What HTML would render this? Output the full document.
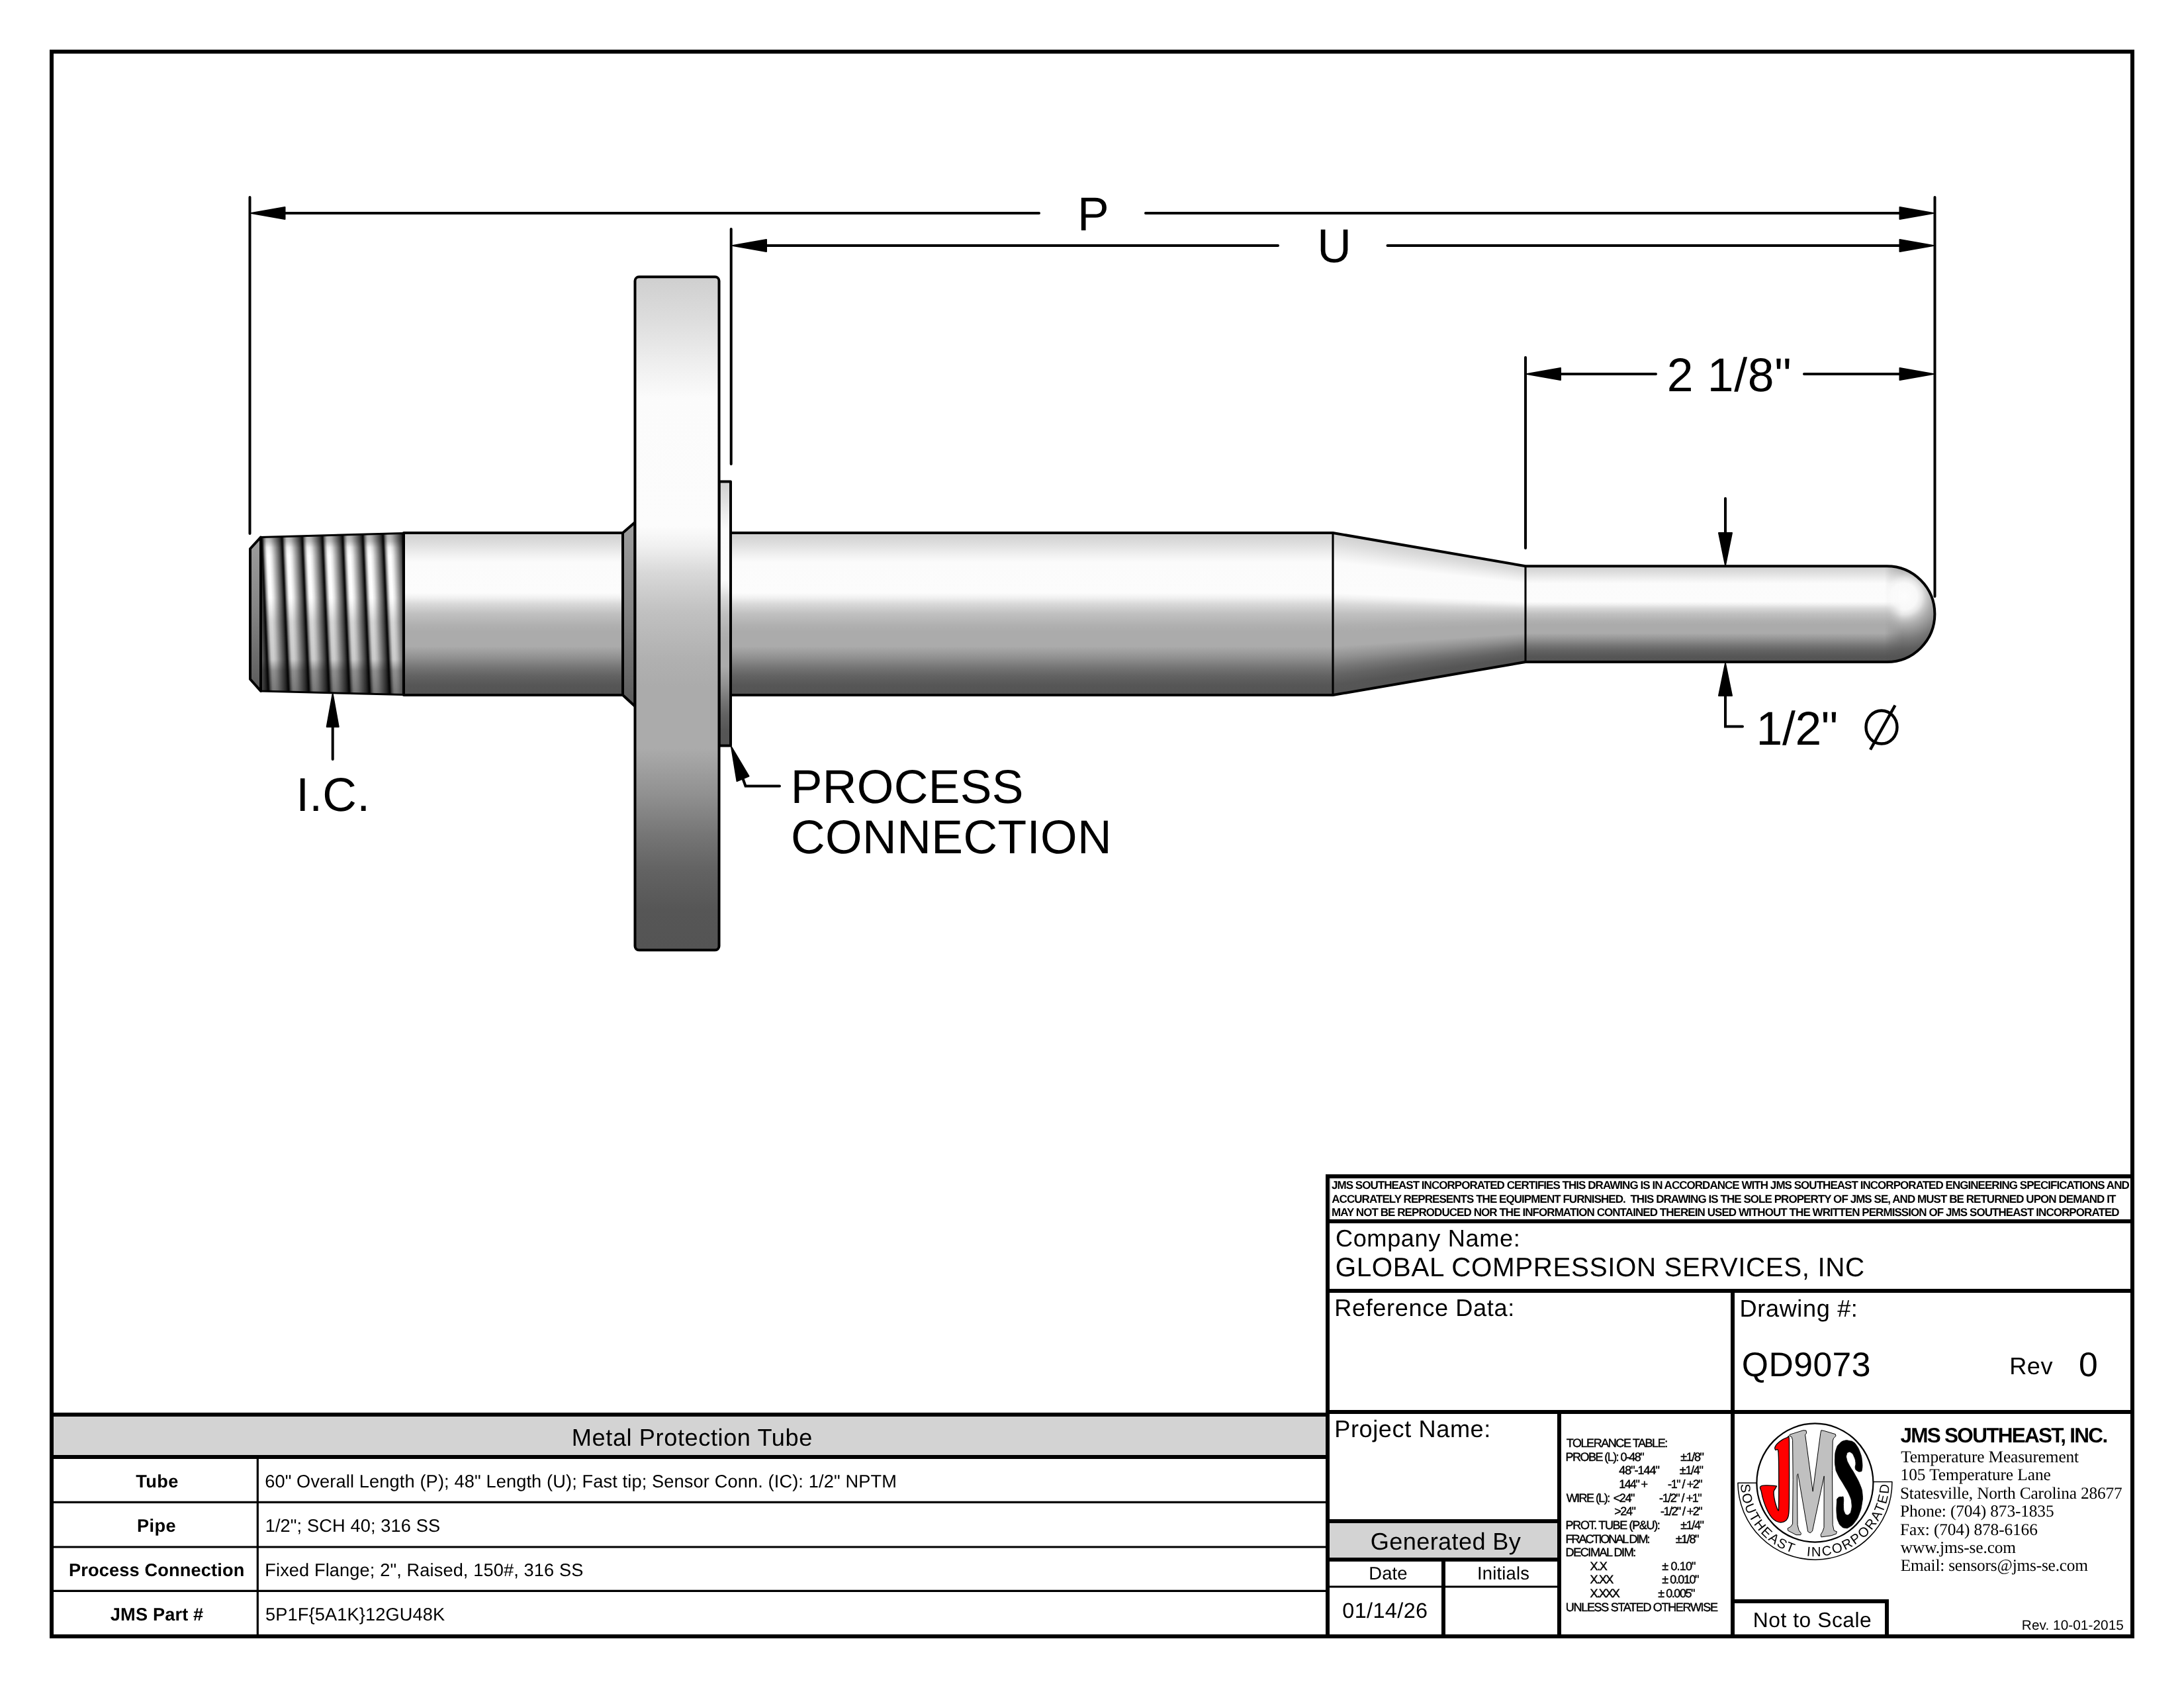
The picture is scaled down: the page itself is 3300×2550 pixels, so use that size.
<!DOCTYPE html>
<html lang="en"><head><meta charset="utf-8"><title>QD9073 - Metal Protection Tube</title>
<style>html,body{margin:0;padding:0;background:#fff;}body{width:3300px;height:2550px;overflow:hidden;}svg{display:block;font-family:"Liberation Sans",sans-serif;fill:#000;opacity:0.999;text-rendering:geometricPrecision;}</style></head><body>
<svg width="3300" height="2550" viewBox="0 0 3300 2550">
<defs>
<linearGradient id="cyl" x1="0" y1="0" x2="0" y2="1"><stop offset="0%" stop-color="#cfcfcf"/><stop offset="6%" stop-color="#dcdcdc"/><stop offset="13%" stop-color="#efefef"/><stop offset="18%" stop-color="#fbfbfb"/><stop offset="37%" stop-color="#fcfcfc"/><stop offset="40%" stop-color="#f0f0f0"/><stop offset="44%" stop-color="#d8d8d8"/><stop offset="50%" stop-color="#c0c0c0"/><stop offset="57%" stop-color="#b0b0b0"/><stop offset="61%" stop-color="#ababab"/><stop offset="70%" stop-color="#ababab"/><stop offset="77%" stop-color="#909090"/><stop offset="83%" stop-color="#757575"/><stop offset="88%" stop-color="#636363"/><stop offset="94%" stop-color="#565656"/><stop offset="100%" stop-color="#545454"/></linearGradient>
<linearGradient id="hub" x1="0" y1="0" x2="0" y2="1"><stop offset="0" stop-color="#9e9e9e"/><stop offset="0.45" stop-color="#868686"/><stop offset="0.75" stop-color="#6e6e6e"/><stop offset="1" stop-color="#5a5a5a"/></linearGradient>
<linearGradient id="ridge" x1="0" y1="0" x2="1" y2="0"><stop offset="0" stop-color="#000"/><stop offset="0.04" stop-color="#2a2a2a"/><stop offset="0.10" stop-color="#8c8c8c"/><stop offset="0.22" stop-color="#fafafa"/><stop offset="0.34" stop-color="#fff"/><stop offset="0.46" stop-color="#e6e6e6"/><stop offset="0.66" stop-color="#9c9c9c"/><stop offset="0.86" stop-color="#505050"/><stop offset="0.96" stop-color="#1c1c1c"/><stop offset="1" stop-color="#000"/></linearGradient>
<pattern id="thr" x="395.1" y="0" width="30.55" height="400" patternUnits="userSpaceOnUse" patternTransform="translate(-34.5 0) skewX(2.46)"><rect x="0" y="0" width="30.55" height="400" fill="url(#ridge)"/></pattern>
<linearGradient id="thrshade" x1="0" y1="0" x2="0" y2="1"><stop offset="0" stop-color="#000" stop-opacity="0.30"/><stop offset="0.05" stop-color="#000" stop-opacity="0.24"/><stop offset="0.09" stop-color="#000" stop-opacity="0.05"/><stop offset="0.14" stop-color="#000" stop-opacity="0.0"/><stop offset="0.40" stop-color="#000" stop-opacity="0.0"/><stop offset="0.55" stop-color="#000" stop-opacity="0.16"/><stop offset="0.78" stop-color="#000" stop-opacity="0.20"/><stop offset="0.85" stop-color="#000" stop-opacity="0.44"/><stop offset="1" stop-color="#000" stop-opacity="0.54"/></linearGradient>
<radialGradient id="ball" gradientUnits="userSpaceOnUse" cx="2877" cy="901" r="91"><stop offset="0" stop-color="#fdfdfd"/><stop offset="0.22" stop-color="#f8f8f8"/><stop offset="0.30" stop-color="#e6e6e6"/><stop offset="0.38" stop-color="#c6c6c6"/><stop offset="0.46" stop-color="#aeaeae"/><stop offset="0.55" stop-color="#9a9a9a"/><stop offset="0.70" stop-color="#7a7a7a"/><stop offset="0.87" stop-color="#5e5e5e"/><stop offset="1" stop-color="#545454"/></radialGradient>
<linearGradient id="ballfade" gradientUnits="userSpaceOnUse" x1="2848" y1="0" x2="2874" y2="0"><stop offset="0" stop-color="#fff" stop-opacity="0"/><stop offset="1" stop-color="#fff" stop-opacity="1"/></linearGradient>
<mask id="ballmask" maskUnits="userSpaceOnUse" x="2800" y="800" width="200" height="260"><rect x="2800" y="800" width="200" height="260" fill="url(#ballfade)"/></mask>
<clipPath id="tipclip"><path d="M2305,855.2 H2851 A72.4,72.4 0 0 1 2851,1000 H2305 Z"/></clipPath>
</defs>
<g stroke="#000" stroke-width="4.0" stroke-linejoin="round">
<polygon points="394,811.5 610,805 610,1050 394,1044" fill="url(#thr)" stroke="none"/>
<polygon points="394,811.5 610,805 610,1050 394,1044" fill="url(#thrshade)" stroke="none"/>
<polygon points="394,811.5 610,805.5 610,1049.5 394,1044" fill="none" stroke-width="3"/>
<polygon points="378,829 394,811.5 394,1044 378,1026" fill="url(#hub)"/>
<rect x="610" y="805" width="331" height="245" fill="url(#cyl)"/>
<polygon points="941,805 959.5,789 959.5,1067 941,1050" fill="url(#hub)"/>
<rect x="1104" y="805" width="910" height="245" fill="url(#cyl)" stroke="none"/>
<g stroke="none" shape-rendering="crispEdges">
<rect x="2014" y="805.26" width="3" height="244.48" fill="url(#cyl)"/>
<rect x="2017" y="805.78" width="3" height="243.45" fill="url(#cyl)"/>
<rect x="2020" y="806.29" width="3" height="242.42" fill="url(#cyl)"/>
<rect x="2023" y="806.81" width="3" height="241.38" fill="url(#cyl)"/>
<rect x="2026" y="807.33" width="3" height="240.35" fill="url(#cyl)"/>
<rect x="2029" y="807.85" width="3" height="239.32" fill="url(#cyl)"/>
<rect x="2032" y="808.36" width="3" height="238.29" fill="url(#cyl)"/>
<rect x="2035" y="808.88" width="3" height="237.25" fill="url(#cyl)"/>
<rect x="2038" y="809.40" width="3" height="236.22" fill="url(#cyl)"/>
<rect x="2041" y="809.92" width="3" height="235.19" fill="url(#cyl)"/>
<rect x="2044" y="810.43" width="3" height="234.15" fill="url(#cyl)"/>
<rect x="2047" y="810.95" width="3" height="233.12" fill="url(#cyl)"/>
<rect x="2050" y="811.47" width="3" height="232.09" fill="url(#cyl)"/>
<rect x="2053" y="811.99" width="3" height="231.05" fill="url(#cyl)"/>
<rect x="2056" y="812.50" width="3" height="230.02" fill="url(#cyl)"/>
<rect x="2059" y="813.02" width="3" height="228.99" fill="url(#cyl)"/>
<rect x="2062" y="813.54" width="3" height="227.96" fill="url(#cyl)"/>
<rect x="2065" y="814.06" width="3" height="226.92" fill="url(#cyl)"/>
<rect x="2068" y="814.57" width="3" height="225.89" fill="url(#cyl)"/>
<rect x="2071" y="815.09" width="3" height="224.86" fill="url(#cyl)"/>
<rect x="2074" y="815.61" width="3" height="223.82" fill="url(#cyl)"/>
<rect x="2077" y="816.13" width="3" height="222.79" fill="url(#cyl)"/>
<rect x="2080" y="816.64" width="3" height="221.76" fill="url(#cyl)"/>
<rect x="2083" y="817.16" width="3" height="220.72" fill="url(#cyl)"/>
<rect x="2086" y="817.68" width="3" height="219.69" fill="url(#cyl)"/>
<rect x="2089" y="818.20" width="3" height="218.66" fill="url(#cyl)"/>
<rect x="2092" y="818.71" width="3" height="217.63" fill="url(#cyl)"/>
<rect x="2095" y="819.23" width="3" height="216.59" fill="url(#cyl)"/>
<rect x="2098" y="819.75" width="3" height="215.56" fill="url(#cyl)"/>
<rect x="2101" y="820.27" width="3" height="214.53" fill="url(#cyl)"/>
<rect x="2104" y="820.78" width="3" height="213.49" fill="url(#cyl)"/>
<rect x="2107" y="821.30" width="3" height="212.46" fill="url(#cyl)"/>
<rect x="2110" y="821.82" width="3" height="211.43" fill="url(#cyl)"/>
<rect x="2113" y="822.34" width="3" height="210.39" fill="url(#cyl)"/>
<rect x="2116" y="822.85" width="3" height="209.36" fill="url(#cyl)"/>
<rect x="2119" y="823.37" width="3" height="208.33" fill="url(#cyl)"/>
<rect x="2122" y="823.89" width="3" height="207.30" fill="url(#cyl)"/>
<rect x="2125" y="824.41" width="3" height="206.26" fill="url(#cyl)"/>
<rect x="2128" y="824.92" width="3" height="205.23" fill="url(#cyl)"/>
<rect x="2131" y="825.44" width="3" height="204.20" fill="url(#cyl)"/>
<rect x="2134" y="825.96" width="3" height="203.16" fill="url(#cyl)"/>
<rect x="2137" y="826.48" width="3" height="202.13" fill="url(#cyl)"/>
<rect x="2140" y="826.99" width="3" height="201.10" fill="url(#cyl)"/>
<rect x="2143" y="827.51" width="3" height="200.06" fill="url(#cyl)"/>
<rect x="2146" y="828.03" width="3" height="199.03" fill="url(#cyl)"/>
<rect x="2149" y="828.55" width="3" height="198.00" fill="url(#cyl)"/>
<rect x="2152" y="829.06" width="3" height="196.97" fill="url(#cyl)"/>
<rect x="2155" y="829.58" width="3" height="195.93" fill="url(#cyl)"/>
<rect x="2158" y="830.10" width="3" height="194.90" fill="url(#cyl)"/>
<rect x="2161" y="830.62" width="3" height="193.87" fill="url(#cyl)"/>
<rect x="2164" y="831.14" width="3" height="192.83" fill="url(#cyl)"/>
<rect x="2167" y="831.65" width="3" height="191.80" fill="url(#cyl)"/>
<rect x="2170" y="832.17" width="3" height="190.77" fill="url(#cyl)"/>
<rect x="2173" y="832.69" width="3" height="189.74" fill="url(#cyl)"/>
<rect x="2176" y="833.21" width="3" height="188.70" fill="url(#cyl)"/>
<rect x="2179" y="833.72" width="3" height="187.67" fill="url(#cyl)"/>
<rect x="2182" y="834.24" width="3" height="186.64" fill="url(#cyl)"/>
<rect x="2185" y="834.76" width="3" height="185.60" fill="url(#cyl)"/>
<rect x="2188" y="835.28" width="3" height="184.57" fill="url(#cyl)"/>
<rect x="2191" y="835.79" width="3" height="183.54" fill="url(#cyl)"/>
<rect x="2194" y="836.31" width="3" height="182.50" fill="url(#cyl)"/>
<rect x="2197" y="836.83" width="3" height="181.47" fill="url(#cyl)"/>
<rect x="2200" y="837.35" width="3" height="180.44" fill="url(#cyl)"/>
<rect x="2203" y="837.86" width="3" height="179.41" fill="url(#cyl)"/>
<rect x="2206" y="838.38" width="3" height="178.37" fill="url(#cyl)"/>
<rect x="2209" y="838.90" width="3" height="177.34" fill="url(#cyl)"/>
<rect x="2212" y="839.42" width="3" height="176.31" fill="url(#cyl)"/>
<rect x="2215" y="839.93" width="3" height="175.27" fill="url(#cyl)"/>
<rect x="2218" y="840.45" width="3" height="174.24" fill="url(#cyl)"/>
<rect x="2221" y="840.97" width="3" height="173.21" fill="url(#cyl)"/>
<rect x="2224" y="841.49" width="3" height="172.17" fill="url(#cyl)"/>
<rect x="2227" y="842.00" width="3" height="171.14" fill="url(#cyl)"/>
<rect x="2230" y="842.52" width="3" height="170.11" fill="url(#cyl)"/>
<rect x="2233" y="843.04" width="3" height="169.08" fill="url(#cyl)"/>
<rect x="2236" y="843.56" width="3" height="168.04" fill="url(#cyl)"/>
<rect x="2239" y="844.07" width="3" height="167.01" fill="url(#cyl)"/>
<rect x="2242" y="844.59" width="3" height="165.98" fill="url(#cyl)"/>
<rect x="2245" y="845.11" width="3" height="164.94" fill="url(#cyl)"/>
<rect x="2248" y="845.63" width="3" height="163.91" fill="url(#cyl)"/>
<rect x="2251" y="846.14" width="3" height="162.88" fill="url(#cyl)"/>
<rect x="2254" y="846.66" width="3" height="161.84" fill="url(#cyl)"/>
<rect x="2257" y="847.18" width="3" height="160.81" fill="url(#cyl)"/>
<rect x="2260" y="847.70" width="3" height="159.78" fill="url(#cyl)"/>
<rect x="2263" y="848.21" width="3" height="158.75" fill="url(#cyl)"/>
<rect x="2266" y="848.73" width="3" height="157.71" fill="url(#cyl)"/>
<rect x="2269" y="849.25" width="3" height="156.68" fill="url(#cyl)"/>
<rect x="2272" y="849.77" width="3" height="155.65" fill="url(#cyl)"/>
<rect x="2275" y="850.28" width="3" height="154.61" fill="url(#cyl)"/>
<rect x="2278" y="850.80" width="3" height="153.58" fill="url(#cyl)"/>
<rect x="2281" y="851.32" width="3" height="152.55" fill="url(#cyl)"/>
<rect x="2284" y="851.84" width="3" height="151.51" fill="url(#cyl)"/>
<rect x="2287" y="852.35" width="3" height="150.48" fill="url(#cyl)"/>
<rect x="2290" y="852.87" width="3" height="149.45" fill="url(#cyl)"/>
<rect x="2293" y="853.39" width="3" height="148.42" fill="url(#cyl)"/>
<rect x="2296" y="853.91" width="3" height="147.38" fill="url(#cyl)"/>
<rect x="2299" y="854.42" width="3" height="146.35" fill="url(#cyl)"/>
<rect x="2302" y="854.94" width="3" height="145.32" fill="url(#cyl)"/>
</g>
<path d="M2305,855.2 H2851 A72.4,72.4 0 0 1 2851,1000 H2305 Z" fill="url(#cyl)" stroke="none"/>
<g clip-path="url(#tipclip)" stroke="none"><rect x="2840" y="850" width="90" height="156" fill="url(#ball)" mask="url(#ballmask)"/></g>
<path d="M1104,805 H2014 L2305,855.2 H2851 A72.4,72.4 0 0 1 2851,1000 H2305 L2014,1050 H1104" fill="none" stroke-width="4"/>
<path d="M2014,805 V1050 M2305,855.2 V1000" fill="none" stroke-width="3.1"/>
<rect x="1086.5" y="727.5" width="17.5" height="399" fill="url(#cyl)"/>
<rect x="959.5" y="418.3" width="127" height="1017" rx="6" ry="6" fill="url(#cyl)"/>
</g>
<g stroke="#000" stroke-width="4" stroke-linecap="round" fill="none">
<line x1="377.5" y1="298" x2="377.5" y2="806"/>
<line x1="2923.5" y1="298" x2="2923.5" y2="901"/>
<line x1="1104.7" y1="346" x2="1104.7" y2="701"/>
<line x1="2305" y1="540" x2="2305" y2="828"/>
<line x1="428" y1="322" x2="1570" y2="322"/><line x1="1731" y1="322" x2="2872" y2="322"/>
<line x1="1156" y1="371" x2="1931" y2="371"/><line x1="2096.5" y1="371" x2="2872" y2="371"/>
<line x1="2356" y1="565" x2="2502" y2="565"/><line x1="2726" y1="565" x2="2872" y2="565"/>
<line x1="2607" y1="753" x2="2607" y2="805"/>
<polyline points="2607,1050 2607,1097.5 2633,1097.5"/>
<line x1="502.7" y1="1097" x2="502.7" y2="1147"/>
<polyline points="1122,1175 1126.5,1187.4 1178,1187.4"/>
</g>
<polygon points="379.5,322.0 430.5,313.0 430.5,331.0" fill="#000" stroke="#000" stroke-width="2" stroke-linejoin="round"/>
<polygon points="2921.5,322.0 2870.5,313.0 2870.5,331.0" fill="#000" stroke="#000" stroke-width="2" stroke-linejoin="round"/>
<polygon points="1107.0,371.0 1158.0,362.0 1158.0,380.0" fill="#000" stroke="#000" stroke-width="2" stroke-linejoin="round"/>
<polygon points="2921.5,371.0 2870.5,362.0 2870.5,380.0" fill="#000" stroke="#000" stroke-width="2" stroke-linejoin="round"/>
<polygon points="2307.0,565.0 2358.0,556.0 2358.0,574.0" fill="#000" stroke="#000" stroke-width="2" stroke-linejoin="round"/>
<polygon points="2921.5,565.0 2870.5,556.0 2870.5,574.0" fill="#000" stroke="#000" stroke-width="2" stroke-linejoin="round"/>
<polygon points="2607.0,854.0 2597.0,805.0 2617.0,805.0" fill="#000" stroke="#000" stroke-width="2" stroke-linejoin="round"/>
<polygon points="2607.0,1002.0 2597.0,1051.0 2617.0,1051.0" fill="#000" stroke="#000" stroke-width="2" stroke-linejoin="round"/>
<polygon points="502.7,1048.0 493.7,1098.0 511.7,1098.0" fill="#000" stroke="#000" stroke-width="2" stroke-linejoin="round"/>
<polygon points="1105,1128 1113.5,1180 1131.5,1172.5" fill="#000" stroke="#000" stroke-width="2" stroke-linejoin="round"/>
<g stroke="#000" stroke-width="4.4" fill="none" stroke-linecap="butt"><ellipse cx="2843" cy="1098.5" rx="23.5" ry="25"/><line x1="2826" y1="1132.5" x2="2863.5" y2="1065.5"/></g>
<rect x="78" y="78" width="3144" height="2394" fill="none" stroke="#000" stroke-width="6"/>
<rect x="81" y="2140" width="1922" height="58" fill="#d3d3d3"/>
<rect x="2009" y="2301" width="344" height="52" fill="#d3d3d3"/>
<line x1="2010.3" y1="1780" x2="2010.3" y2="1842" stroke="#c4c4c4" stroke-width="1" stroke-linecap="butt"/>
<line x1="2009" y1="1781" x2="3219" y2="1781" stroke="#c4c4c4" stroke-width="1" stroke-linecap="butt"/>
<line x1="2006" y1="1774" x2="2006" y2="2472" stroke="#000" stroke-width="6" stroke-linecap="butt"/>
<line x1="2003" y1="1777" x2="3222" y2="1777" stroke="#000" stroke-width="6" stroke-linecap="butt"/>
<line x1="2006" y1="1845" x2="3222" y2="1845" stroke="#000" stroke-width="6" stroke-linecap="butt"/>
<line x1="2006" y1="1950" x2="3222" y2="1950" stroke="#000" stroke-width="6" stroke-linecap="butt"/>
<line x1="2006" y1="2133" x2="3222" y2="2133" stroke="#000" stroke-width="6" stroke-linecap="butt"/>
<line x1="2618" y1="1950" x2="2618" y2="2472" stroke="#000" stroke-width="6" stroke-linecap="butt"/>
<line x1="2356" y1="2133" x2="2356" y2="2472" stroke="#000" stroke-width="6" stroke-linecap="butt"/>
<line x1="2006" y1="2298" x2="2356" y2="2298" stroke="#000" stroke-width="6" stroke-linecap="butt"/>
<line x1="2006" y1="2356" x2="2356" y2="2356" stroke="#000" stroke-width="6" stroke-linecap="butt"/>
<line x1="2006" y1="2397" x2="2356" y2="2397" stroke="#000" stroke-width="3" stroke-linecap="butt"/>
<line x1="2181" y1="2356" x2="2181" y2="2472" stroke="#000" stroke-width="6" stroke-linecap="butt"/>
<line x1="2618" y1="2419" x2="2854" y2="2419" stroke="#000" stroke-width="6" stroke-linecap="butt"/>
<line x1="2851" y1="2416" x2="2851" y2="2472" stroke="#000" stroke-width="6" stroke-linecap="butt"/>
<line x1="78" y1="2137" x2="2006" y2="2137" stroke="#000" stroke-width="6" stroke-linecap="butt"/>
<line x1="78" y1="2201" x2="2006" y2="2201" stroke="#000" stroke-width="6" stroke-linecap="butt"/>
<line x1="78" y1="2269.3" x2="2006" y2="2269.3" stroke="#000" stroke-width="3.2" stroke-linecap="butt"/>
<line x1="78" y1="2337" x2="2006" y2="2337" stroke="#000" stroke-width="3.2" stroke-linecap="butt"/>
<line x1="78" y1="2403.3" x2="2006" y2="2403.3" stroke="#000" stroke-width="3.2" stroke-linecap="butt"/>
<line x1="389.3" y1="2201" x2="389.3" y2="2472" stroke="#000" stroke-width="3.2" stroke-linecap="butt"/>
<text x="1628.11" y="348" font-size="71.5">P</text>
<text x="1990.28" y="396" font-size="71.5">U</text>
<text x="2518.71" y="590.8" font-size="71.5" textLength="188.00" lengthAdjust="spacing">2 1/8&quot;</text>
<text x="2653.53" y="1124.5" font-size="71.5" textLength="123.61" lengthAdjust="spacing">1/2&quot;</text>
<text x="447.31" y="1224.7" font-size="71.5" textLength="111.72" lengthAdjust="spacing">I.C.</text>
<text x="1194.83" y="1212.8" font-size="71.5" textLength="351.59" lengthAdjust="spacing">PROCESS</text>
<text x="1194.93" y="1289" font-size="71.5" textLength="484.79" lengthAdjust="spacing">CONNECTION</text>
<text x="2012.01" y="1795.8" font-size="17.0" font-weight="bold" textLength="1205.74" lengthAdjust="spacing">JMS SOUTHEAST INCORPORATED CERTIFIES THIS DRAWING IS IN ACCORDANCE WITH JMS SOUTHEAST INCORPORATED ENGINEERING SPECIFICATIONS AND</text>
<text x="2012.27" y="1816.8" font-size="17.0" font-weight="bold" textLength="1185.09" lengthAdjust="spacing">ACCURATELY REPRESENTS THE EQUIPMENT FURNISHED.  THIS DRAWING IS THE SOLE PROPERTY OF JMS SE, AND MUST BE RETURNED UPON DEMAND IT</text>
<text x="2011.92" y="1837.4" font-size="17.0" font-weight="bold" textLength="1190.71" lengthAdjust="spacing">MAY NOT BE REPRODUCED NOR THE INFORMATION CONTAINED THEREIN USED WITHOUT THE WRITTEN PERMISSION OF JMS SOUTHEAST INCORPORATED</text>
<text x="2017.89" y="1882.8" font-size="36.2" textLength="278.85" lengthAdjust="spacing">Company Name:</text>
<text x="2017.82" y="1928.0" font-size="40.4" textLength="799.37" lengthAdjust="spacing">GLOBAL COMPRESSION SERVICES, INC</text>
<text x="2016.22" y="1988.2" font-size="36.2" textLength="272.08" lengthAdjust="spacing">Reference Data:</text>
<text x="2628.52" y="1988.6" font-size="36.2" textLength="178.41" lengthAdjust="spacing">Drawing #:</text>
<text x="2631.82" y="2079.4" font-size="51.7" textLength="194.73" lengthAdjust="spacing">QD9073</text>
<text x="3036.22" y="2076" font-size="36.2" textLength="65.35" lengthAdjust="spacing">Rev</text>
<text x="3141.06" y="2079.4" font-size="51.7">0</text>
<text x="2016.22" y="2171.2" font-size="36.2" textLength="236.17" lengthAdjust="spacing">Project Name:</text>
<text x="2070.72" y="2341" font-size="36.2" textLength="227.22" lengthAdjust="spacing">Generated By</text>
<text x="2068.37" y="2386.2" font-size="27.4" textLength="58.15" lengthAdjust="spacing">Date</text>
<text x="2232.10" y="2386.2" font-size="27.4" textLength="78.73" lengthAdjust="spacing">Initials</text>
<text x="2028.30" y="2443.6" font-size="32.4" textLength="128.76" lengthAdjust="spacing">01/14/26</text>
<text x="2648.86" y="2457.8" font-size="31.8" textLength="178.95" lengthAdjust="spacing">Not to Scale</text>
<text x="3054.87" y="2461.6" font-size="20.8" textLength="153.97" lengthAdjust="spacing">Rev. 10-01-2015</text>
<text x="2366.69" y="2186.2" font-size="18.0" textLength="153.56" lengthAdjust="spacing" stroke="#000" stroke-width="0.45">TOLERANCE TABLE:</text>
<text x="2365.62" y="2206.8" font-size="18.0" textLength="118.99" lengthAdjust="spacing" stroke="#000" stroke-width="0.45">PROBE (L): 0-48&quot;</text>
<text x="2539.19" y="2206.8" font-size="18.0" textLength="35.71" lengthAdjust="spacing" stroke="#000" stroke-width="0.45">±1/8&quot;</text>
<text x="2446.31" y="2227.4" font-size="18.0" textLength="61.59" lengthAdjust="spacing" stroke="#000" stroke-width="0.45">48&quot;-144&quot;</text>
<text x="2537.80" y="2227.4" font-size="18.0" textLength="36.10" lengthAdjust="spacing" stroke="#000" stroke-width="0.45">±1/4&quot;</text>
<text x="2446.35" y="2248.1" font-size="18.0" textLength="43.64" lengthAdjust="spacing" stroke="#000" stroke-width="0.45">144&quot; +</text>
<text x="2520.12" y="2248.1" font-size="18.0" textLength="52.49" lengthAdjust="spacing" stroke="#000" stroke-width="0.45">-1&quot; / +2&quot;</text>
<text x="2366.67" y="2268.7" font-size="18.0" textLength="66.59" lengthAdjust="spacing" stroke="#000" stroke-width="0.45">WIRE (L):</text>
<text x="2437.72" y="2268.7" font-size="18.0" textLength="32.74" lengthAdjust="spacing" stroke="#000" stroke-width="0.45">&lt;24&quot;</text>
<text x="2507.12" y="2268.7" font-size="18.0" textLength="64.49" lengthAdjust="spacing" stroke="#000" stroke-width="0.45">-1/2&quot; / +1&quot;</text>
<text x="2439.13" y="2289.3" font-size="18.0" textLength="32.77" lengthAdjust="spacing" stroke="#000" stroke-width="0.45">&gt;24&quot;</text>
<text x="2509.12" y="2289.3" font-size="18.0" textLength="63.49" lengthAdjust="spacing" stroke="#000" stroke-width="0.45">-1/2&quot; / +2&quot;</text>
<text x="2365.62" y="2309.9" font-size="18.0" textLength="143.18" lengthAdjust="spacing" stroke="#000" stroke-width="0.45">PROT. TUBE (P&amp;U):</text>
<text x="2539.19" y="2309.9" font-size="18.0" textLength="35.71" lengthAdjust="spacing" stroke="#000" stroke-width="0.45">±1/4&quot;</text>
<text x="2365.62" y="2330.5" font-size="18.0" textLength="127.78" lengthAdjust="spacing" stroke="#000" stroke-width="0.45">FRACTIONAL DIM:</text>
<text x="2531.80" y="2330.5" font-size="18.0" textLength="35.66" lengthAdjust="spacing" stroke="#000" stroke-width="0.45">±1/8&quot;</text>
<text x="2365.62" y="2351.2" font-size="18.0" textLength="106.64" lengthAdjust="spacing" stroke="#000" stroke-width="0.45">DECIMAL DIM:</text>
<text x="2402.60" y="2371.8" font-size="18.0" textLength="26.16" lengthAdjust="spacing" stroke="#000" stroke-width="0.45">X.X</text>
<text x="2511.19" y="2371.8" font-size="18.0" textLength="51.27" lengthAdjust="spacing" stroke="#000" stroke-width="0.45">± 0.10&quot;</text>
<text x="2402.60" y="2392.4" font-size="18.0" textLength="35.60" lengthAdjust="spacing" stroke="#000" stroke-width="0.45">X.XX</text>
<text x="2511.19" y="2392.4" font-size="18.0" textLength="56.27" lengthAdjust="spacing" stroke="#000" stroke-width="0.45">± 0.010&quot;</text>
<text x="2402.60" y="2413.0" font-size="18.0" textLength="45.16" lengthAdjust="spacing" stroke="#000" stroke-width="0.45">X.XXX</text>
<text x="2505.19" y="2413.0" font-size="18.0" textLength="56.27" lengthAdjust="spacing" stroke="#000" stroke-width="0.45">± 0.005&quot;</text>
<text x="2365.87" y="2433.6" font-size="18.0" textLength="230.12" lengthAdjust="spacing" stroke="#000" stroke-width="0.45">UNLESS STATED OTHERWISE</text>
<text x="2871.46" y="2179.1" font-size="31.5" font-weight="bold" textLength="313.69" lengthAdjust="spacing">JMS SOUTHEAST, INC.</text>
<text x="2872.13" y="2208.6" font-size="25.4" font-family='"Liberation Serif", serif' textLength="268.98" lengthAdjust="spacing">Temperature Measurement</text>
<text x="2871.58" y="2236.1" font-size="25.4" font-family='"Liberation Serif", serif' textLength="227.18" lengthAdjust="spacing">105 Temperature Lane</text>
<text x="2870.88" y="2263.5" font-size="25.4" font-family='"Liberation Serif", serif' textLength="335.93" lengthAdjust="spacing">Statesville, North Carolina 28677</text>
<text x="2871.09" y="2291.0" font-size="25.4" font-family='"Liberation Serif", serif' textLength="232.50" lengthAdjust="spacing">Phone: (704) 873-1835</text>
<text x="2871.09" y="2318.5" font-size="25.4" font-family='"Liberation Serif", serif' textLength="207.76" lengthAdjust="spacing">Fax: (704) 878-6166</text>
<text x="2871.82" y="2345.9" font-size="25.4" font-family='"Liberation Serif", serif' textLength="174.26" lengthAdjust="spacing">www.jms-se.com</text>
<text x="2871.66" y="2373.4" font-size="25.4" font-family='"Liberation Serif", serif' textLength="283.42" lengthAdjust="spacing">Email: sensors@jms-se.com</text>
<text x="863.86" y="2183.6" font-size="36.2" textLength="363.55" lengthAdjust="spacing">Metal Protection Tube</text>
<text x="205.35" y="2247.1" font-size="27.2" font-weight="bold" textLength="63.96" lengthAdjust="spacing">Tube</text>
<text x="207.03" y="2313.7" font-size="27.2" font-weight="bold" textLength="58.47" lengthAdjust="spacing">Pipe</text>
<text x="104.09" y="2381.2" font-size="27.2" font-weight="bold" textLength="265.17" lengthAdjust="spacing">Process Connection</text>
<text x="166.80" y="2448.0" font-size="27.2" font-weight="bold" textLength="140.44" lengthAdjust="spacing">JMS Part #</text>
<text x="400.16" y="2247.1" font-size="27.2" textLength="954.64" lengthAdjust="spacing">60&quot; Overall Length (P); 48&quot; Length (U); Fast tip; Sensor Conn. (IC): 1/2&quot; NPTM</text>
<text x="400.69" y="2313.7" font-size="27.2" textLength="264.37" lengthAdjust="spacing">1/2&quot;; SCH 40; 316 SS</text>
<text x="400.25" y="2381.2" font-size="27.2" textLength="481.06" lengthAdjust="spacing">Fixed Flange; 2&quot;, Raised, 150#, 316 SS</text>
<text x="400.95" y="2448.0" font-size="27.2" textLength="271.16" lengthAdjust="spacing">5P1F{5A1K}12GU48K</text>
<g stroke-linejoin="round">
<path d="M2625.9,2240.3 A116.5,116.8 0 0 0 2858.9,2238.6 L2830.4,2238.6 A88.0,89.6 0 0 1 2654.4,2240.3 Z" fill="#fff" stroke="#000" stroke-width="1.5"/>
<ellipse cx="2742.4" cy="2240.0" rx="88.0" ry="89.6" fill="#fff" stroke="#000" stroke-width="2.2"/>
<path d="M2704.2,2167.2 L2724.9,2160.7 L2729.0,2161.1 L2729.7,2165.2 L2727.6,2167.2 L2739.2,2253.1 L2750.8,2165.2 L2751.9,2160.7 L2756.2,2161.5 L2773.3,2166.6 L2774.0,2169.3 L2770.5,2172.7 L2769.2,2176.8 L2768.5,2221.7 L2769.2,2303.5 L2771.2,2312.3 L2775.3,2313.7 L2774.6,2317.1 L2767.1,2319.8 L2751.9,2321.9 L2751.1,2318.5 L2754.2,2313.0 L2756.0,2307.6 L2756.2,2229.9 L2738.5,2313.0 L2735.1,2315.7 L2731.7,2313.7 L2716.7,2226.5 L2715.4,2228.6 L2716.0,2303.5 L2718.1,2311.7 L2721.5,2316.4 L2720.8,2318.7 L2714.0,2318.7 L2701.7,2312.3 L2701.1,2308.9 L2705.8,2306.2 L2708.6,2302.1 L2709.2,2235.4 L2708.6,2175.4 L2707.2,2170.7 L2704.2,2169.3Z" fill="#c0c0c0" stroke="#000" stroke-width="1"/>
<path d="M2682.0,2186.3 C2682.5,2184.4 2683.1,2183.2 2685.4,2180.9 C2687.7,2178.6 2690.6,2176.6 2693.6,2174.7 C2696.6,2172.8 2698.5,2172.2 2700.4,2171.6 C2702.3,2171.0 2702.5,2167.0 2703.1,2171.6 C2703.7,2176.2 2703.4,2179.0 2703.5,2194.5 C2703.6,2210.0 2703.6,2231.3 2703.5,2249.0 C2703.4,2266.7 2703.6,2274.1 2703.0,2283.1 C2702.4,2292.1 2702.1,2290.9 2700.7,2294.0 C2699.3,2297.1 2698.0,2297.6 2695.9,2298.7 C2693.8,2299.8 2692.6,2299.8 2690.2,2299.7 C2687.8,2299.6 2686.6,2299.4 2684.0,2298.0 C2681.4,2296.6 2679.9,2295.9 2677.2,2292.6 C2674.5,2289.3 2672.8,2286.6 2670.4,2281.7 C2668.0,2276.8 2666.8,2273.6 2665.0,2268.1 C2663.2,2262.6 2662.3,2259.0 2661.6,2254.4 C2660.9,2249.8 2657.2,2246.9 2661.3,2244.9 C2665.4,2242.9 2677.6,2244.2 2682.0,2244.6 C2686.4,2245.0 2683.9,2245.2 2683.5,2246.9 C2683.1,2248.6 2680.7,2250.0 2680.2,2253.1 C2679.7,2256.2 2680.2,2258.5 2680.8,2262.6 C2681.4,2266.7 2682.2,2269.7 2683.4,2273.5 C2684.6,2277.3 2686.0,2281.2 2686.8,2281.7 C2687.6,2282.2 2687.4,2282.7 2687.6,2276.2 C2687.8,2269.7 2687.8,2262.6 2687.8,2249.0 C2687.8,2235.4 2687.8,2219.4 2687.6,2208.1 C2687.4,2196.8 2687.4,2196.2 2686.9,2192.5 C2686.4,2188.8 2685.9,2190.1 2685.1,2189.7 C2684.3,2189.3 2683.3,2191.1 2682.7,2190.4 C2682.1,2189.7 2681.5,2188.2 2682.0,2186.3Z" fill="#f00" stroke="#000" stroke-width="1.4"/>
<path d="M2795.7,2176.8 C2792.4,2176.3 2791.9,2175.0 2787.6,2176.1 C2783.3,2177.2 2782.9,2177.5 2779.4,2180.9 C2775.9,2184.3 2776.4,2183.6 2774.6,2189.0 C2772.8,2194.4 2772.9,2194.0 2772.6,2201.3 C2772.3,2208.6 2772.2,2209.4 2773.3,2216.3 C2774.4,2223.2 2773.3,2219.9 2776.7,2227.2 C2780.1,2234.5 2781.5,2235.2 2786.2,2243.5 C2790.9,2251.8 2791.3,2251.2 2794.4,2258.5 C2797.5,2265.8 2797.1,2264.6 2797.8,2270.8 C2798.5,2277.0 2798.0,2277.4 2797.1,2281.7 C2796.2,2286.0 2796.2,2285.3 2794.4,2287.1 C2792.6,2288.9 2792.3,2289.2 2790.3,2288.5 C2788.3,2287.8 2788.2,2287.7 2786.9,2284.4 C2785.6,2281.1 2785.9,2281.8 2785.5,2276.2 C2785.1,2270.6 2786.2,2267.3 2785.5,2263.3 C2784.8,2259.3 2785.1,2261.3 2782.8,2261.3 C2780.5,2261.3 2778.7,2260.8 2776.7,2263.3 C2774.7,2265.8 2775.7,2264.1 2775.3,2270.8 C2774.9,2277.5 2774.6,2280.9 2775.3,2288.5 C2776.0,2296.1 2776.2,2294.9 2778.0,2299.4 C2779.8,2303.9 2779.5,2303.1 2782.1,2305.5 C2784.7,2307.9 2784.3,2307.9 2787.6,2308.3 C2790.9,2308.7 2790.4,2309.3 2794.4,2306.9 C2798.4,2304.5 2798.6,2304.7 2802.6,2299.4 C2806.6,2294.1 2806.5,2294.7 2809.4,2287.1 C2812.3,2279.5 2812.2,2278.8 2813.5,2270.8 C2814.8,2262.8 2814.8,2264.5 2814.1,2257.2 C2813.4,2249.9 2813.8,2251.5 2810.7,2243.5 C2807.6,2235.5 2806.9,2235.2 2802.6,2227.2 C2798.3,2219.2 2797.7,2219.8 2794.4,2213.6 C2791.1,2207.4 2791.4,2208.4 2790.3,2204.0 C2789.2,2199.6 2789.6,2199.9 2790.3,2197.2 C2791.0,2194.5 2791.2,2194.5 2793.0,2193.8 C2794.8,2193.1 2794.9,2192.9 2797.1,2194.5 C2799.3,2196.1 2799.4,2195.9 2801.2,2199.9 C2803.0,2203.9 2803.4,2204.8 2803.9,2209.5 C2804.4,2214.2 2802.6,2214.4 2803.2,2217.7 C2803.8,2221.0 2804.0,2220.3 2806.0,2221.7 C2808.0,2223.1 2808.7,2223.6 2810.7,2223.1 C2812.7,2222.6 2812.8,2224.0 2813.5,2219.7 C2814.2,2215.4 2814.2,2213.5 2813.5,2206.8 C2812.8,2200.1 2812.9,2200.7 2810.7,2194.5 C2808.5,2188.3 2808.2,2188.0 2805.3,2183.6 C2802.4,2179.2 2802.4,2179.9 2799.8,2178.1 C2797.2,2176.3 2799.0,2177.3 2795.7,2176.8Z" fill="#000" stroke="#000" stroke-width="0.8"/>
<path id="bannerpath" d="M2630.1,2239.0 A112.3,112.3 0 0 0 2854.7000000000003,2239.0" fill="none" stroke="none"/>
</g>
<text font-size="20.3"><textPath href="#bannerpath" startOffset="3.3" textLength="138.6" lengthAdjust="spacing">SOUTHEAST</textPath></text>
<text font-size="20.3"><textPath href="#bannerpath" startOffset="163.1" textLength="185.2" lengthAdjust="spacing">INCORPORATED</textPath></text>
</svg></body></html>
